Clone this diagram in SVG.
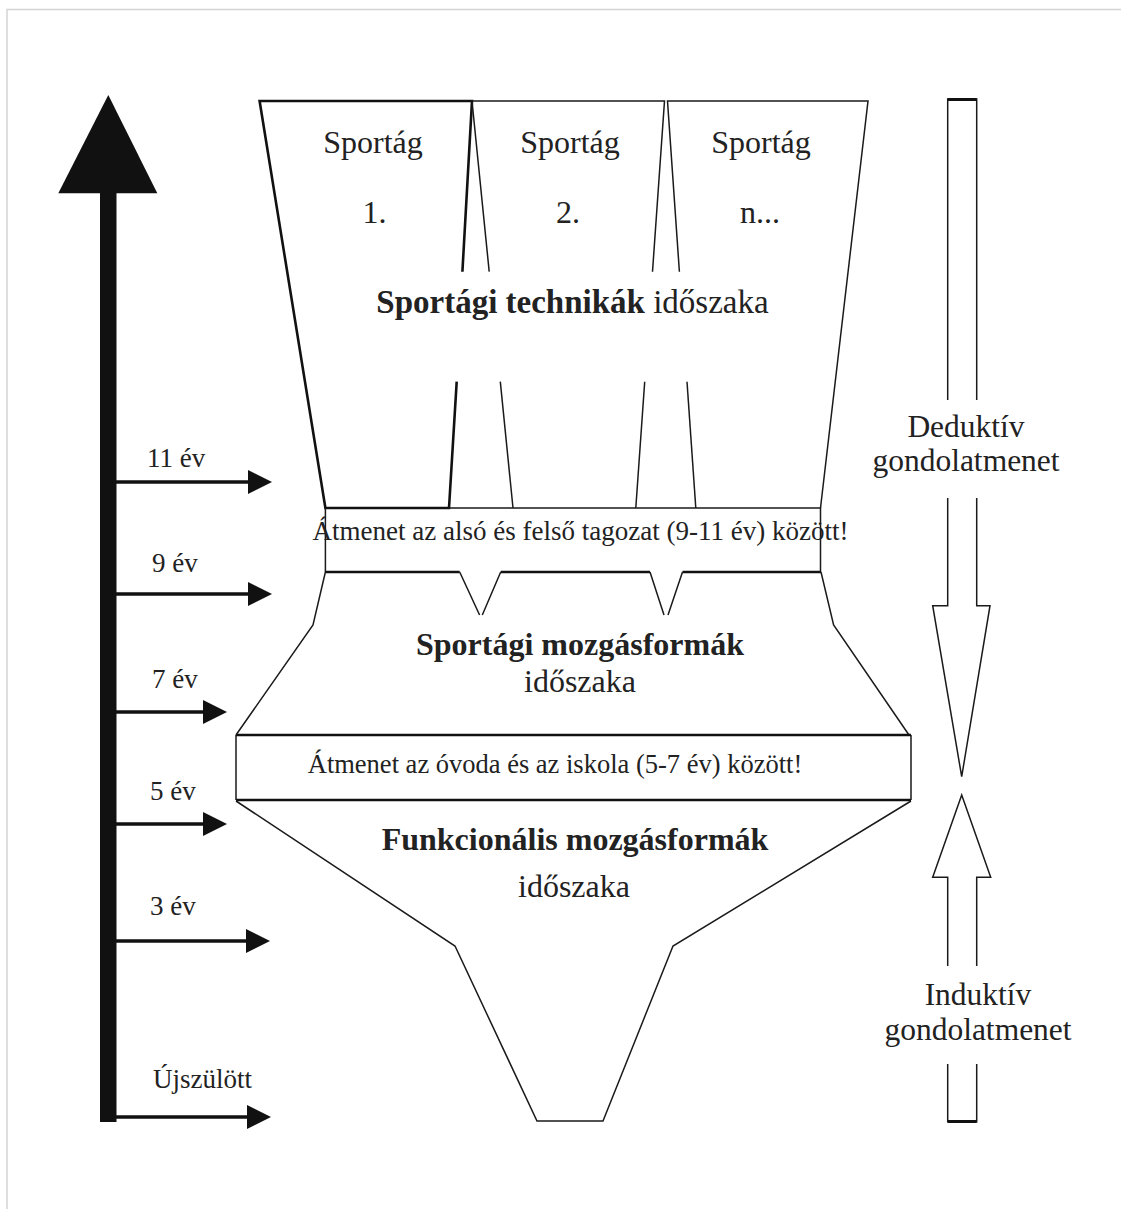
<svg xmlns="http://www.w3.org/2000/svg" width="1121" height="1209" viewBox="0 0 1121 1209">
  <style>
    text { font-family: "Liberation Serif", "Times New Roman", serif; fill: #222; }
    .b { font-weight: bold; }
    .lbl { font-size: 27px; }
    .ttl { font-size: 32px; text-anchor: middle; }
    .mid { text-anchor: middle; }
    .ln { fill: none; stroke: #1a1a1a; stroke-width: 1.5; stroke-linejoin: miter; }
    .thick { fill: none; stroke: #111; stroke-width: 2.6; }
    .tick { stroke: #111; stroke-width: 3.5; fill: none; }
  </style>
  <defs>
    <marker id="head" viewBox="0 0 8 8" refX="8" refY="4" markerWidth="8" markerHeight="8" markerUnits="userSpaceOnUse" orient="auto">
      <path d="M0,0 L8,4 L0,8 Z" fill="#111"/>
    </marker>
  </defs>

  <rect width="1121" height="1209" fill="#fff"/>
  <!-- page frame -->
  <path d="M7,1209 V9.5 H1121" fill="none" stroke="#d4d4d4" stroke-width="1.5"/>

  <!-- age axis -->
  <g id="age-axis">
    <rect x="100" y="192" width="16.5" height="930" fill="#111"/>
    <polygon points="108.3,95 157.3,193.3 58.3,193.3" fill="#111"/>
  </g>

  <!-- age tick arrows -->
  <g id="connectors">
    <g class="tick">
      <line x1="116" y1="482" x2="249" y2="482"/>
      <line x1="116" y1="594" x2="249" y2="594"/>
      <line x1="116" y1="712" x2="204" y2="712"/>
      <line x1="116" y1="824" x2="204" y2="824"/>
      <line x1="116" y1="941" x2="248" y2="941"/>
      <line x1="116" y1="1117" x2="248" y2="1117"/>
    </g>
    <g fill="#111">
      <polygon points="248,470 272,482 248,494"/>
      <polygon points="248,582 272,594 248,606"/>
      <polygon points="203,700 227,712 203,724"/>
      <polygon points="203,812 227,824 203,836"/>
      <polygon points="246,929 270,941 246,953"/>
      <polygon points="247,1105 271,1117 247,1129"/>
    </g>
  </g>

  <g id="age-labels" class="lbl">
    <text x="147" y="467">11 év</text>
    <text x="152" y="572">9 év</text>
    <text x="152" y="688">7 év</text>
    <text x="150" y="800">5 év</text>
    <text x="150" y="915">3 év</text>
    <text x="153" y="1088">Újszülött</text>
  </g>

  <!-- sport technique period: three converging sections -->
  <g id="sport-1">
    <path class="thick" d="M462.4,271.7 L472,101 H259.6 L325.4,508 H449 L456.7,381.7"/>
    <text class="ttl" x="373" y="153">Sportág</text>
    <text class="ttl" x="374.5" y="223">1.</text>
  </g>
  <g id="sport-2">
    <path class="ln" d="M489.2,271.7 L472,101 H664.5 L652.5,271.7"/>
    <path class="ln" d="M500.3,381.7 L513,508 M644.7,381.7 L635.8,508"/>
    <text class="ttl" x="570" y="153">Sportág</text>
    <text class="ttl" x="568" y="223">2.</text>
  </g>
  <g id="sport-n">
    <path class="ln" d="M679.4,271.7 L667.5,101 H868 L820.5,508"/>
    <path class="ln" d="M687,381.7 L695.8,508"/>
    <text class="ttl" x="761" y="153">Sportág</text>
    <text class="ttl" x="760" y="223">n...</text>
  </g>
  <g id="technique-title">
    <text class="ttl" x="572.5" y="313" style="font-size:33px"><tspan class="b">Sportági technikák</tspan> időszaka</text>
  </g>

  <!-- transition 9-11 years -->
  <g id="transition-9-11">
    <path class="ln" d="M449,508 H820.5 V572 M325.4,508 V572"/>
    <path class="thick" d="M325.4,572 H459.7 M500.7,572 H650 M682.5,572 H821"/>
    <text class="mid" x="580.5" y="540" style="font-size:27px">Átmenet az alsó és felső tagozat (9-11 év) között!</text>
  </g>

  <!-- sport movement forms period -->
  <g id="sport-movements">
    <path class="ln" d="M325.4,572 L313,625 L236,735 M821,572 L833.6,625 L909,735"/>
    <path class="ln" d="M459.7,572 L479.6,615 M500.7,572 L482.3,615 M650,572 L664,615 M682.5,572 L668,615"/>
    <text class="ttl b" x="580" y="655">Sportági mozgásformák</text>
    <text class="ttl" x="580" y="692">időszaka</text>
  </g>

  <!-- transition 5-7 years -->
  <g id="transition-5-7">
    <path class="ln" d="M236,735 V800 M911,735 V800"/>
    <path class="thick" d="M236,735 H911 M236,800 H911"/>
    <text class="mid" x="555" y="773" style="font-size:26.5px">Átmenet az óvoda és az iskola (5-7 év) között!</text>
  </g>

  <!-- functional movement forms period -->
  <g id="functional-movements">
    <path class="ln" d="M236,801 L455,946 L537,1121 H603 L673,946 L911,801"/>
    <text class="ttl b" x="575" y="850">Funkcionális mozgásformák</text>
    <text class="ttl" x="574" y="897">időszaka</text>
  </g>

  <!-- deductive reasoning arrow -->
  <g id="deductive">
    <path class="ln" d="M947.7,400 V99 H976.7 V400" stroke-width="2"/>
    <path d="M947.7,99.5 H976.7" stroke="#111" stroke-width="3"/>
    <path class="ln" d="M947.7,498 V605.7 H932.7 L961.7,776.7 L990,605.7 H976.7 V498" stroke-width="2"/>
    <text class="ttl" x="966" y="437" style="font-size:31.5px">Deduktív</text>
    <text class="ttl" x="966" y="471" style="font-size:31.5px">gondolatmenet</text>
  </g>

  <!-- inductive reasoning arrow -->
  <g id="inductive">
    <path class="ln" d="M947.7,966 V877.3 H932.7 L961.7,795 L990.7,877.3 H976.7 V966" stroke-width="2"/>
    <path class="ln" d="M947.7,1064 V1121.7 H976.7 V1064" stroke-width="2"/>
    <path d="M947.7,1121.5 H976.7" stroke="#111" stroke-width="3"/>
    <text class="ttl" x="978" y="1005" style="font-size:31.5px">Induktív</text>
    <text class="ttl" x="978" y="1040" style="font-size:31.5px">gondolatmenet</text>
  </g>
</svg>
